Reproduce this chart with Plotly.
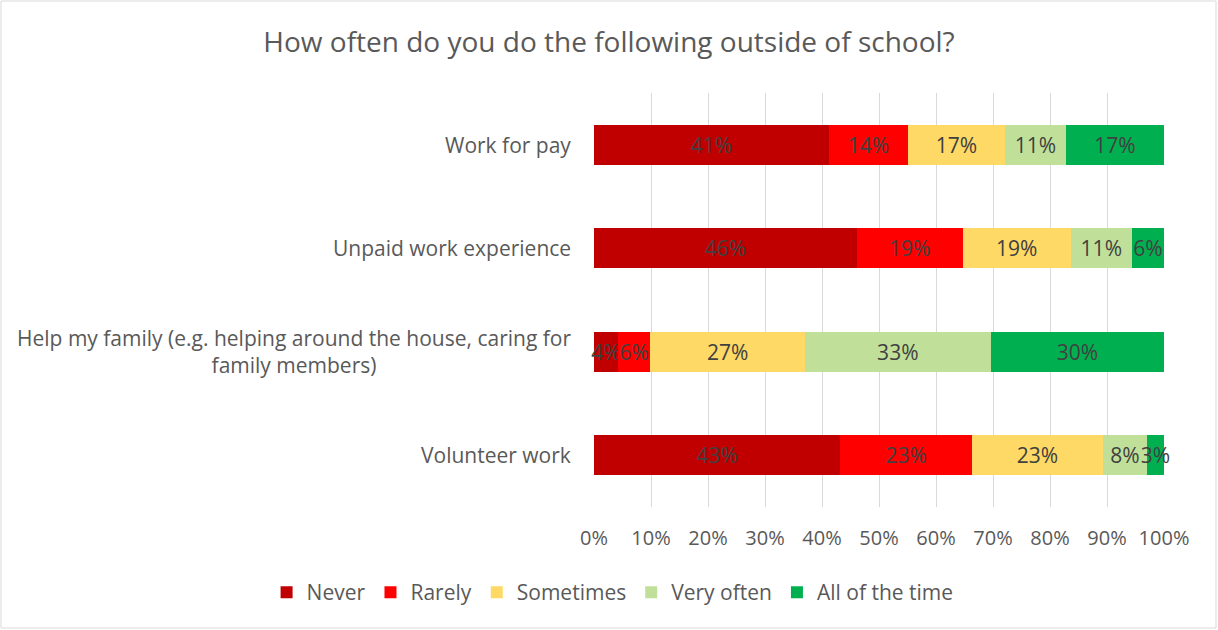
import plotly.graph_objects as go

# Survey items (top to bottom) and response shares in percent
categories = [
    "Work for pay",
    "Unpaid work experience",
    "Help my family (e.g. helping around the house, caring for<br>family members)",
    "Volunteer work",
]
never = [41.2, 46.1, 4.2, 43.2]
rarely = [13.9, 18.6, 5.7, 23.1]
sometimes = [17.0, 18.9, 27.1, 23.0]
very_often = [10.7, 10.8, 32.6, 7.7]
all_of_the_time = [17.2, 5.6, 30.4, 3.0]

series_names = ["Never", "Rarely", "Sometimes", "Very often", "All of the time"]
series_values = [never, rarely, sometimes, very_often, all_of_the_time]
series_colors = ["#C00000", "#FF0000", "#FFD966", "#C0E09A", "#00B050"]

x_ticks = [0, 10, 20, 30, 40, 50, 60, 70, 80, 90, 100]

FONT = "Open Sans"
GREY = "#595959"

W, H = 1218, 630
ML, MR, MT, MB = 10, 10, 93, 123          # outer margins
PW = W - ML - MR                           # paper width in px
PH = H - MT - MB                           # plot height in px
PLOT_X0, PLOT_X1 = 594, 1164               # plot area in px


def px_to_paper(px):
    return (px - ML) / PW


fig = go.Figure()
for name, vals, color in zip(series_names, series_values, series_colors):
    fig.add_trace(go.Bar(
        name=name,
        y=categories,
        x=[v / 100 for v in vals],
        orientation="h",
        marker=dict(color=color, line=dict(width=0)),
        texttemplate="%{x:.0%}",
        textposition="inside",
        insidetextanchor="middle",
        textangle=0,
        textfont=dict(family=FONT, size=21, color="#404040"),
        constraintext="none",
        cliponaxis=False,
    ))

# Category labels to the left of the plot area, each line centred
for cat in categories:
    fig.add_annotation(
        x=px_to_paper(573), xref="paper", y=cat, yref="y",
        text=cat, showarrow=False, xanchor="right", yanchor="middle",
        align="center", font=dict(family=FONT, size=21, color=GREY),
    )

fig.update_layout(
    barmode="stack",
    bargap=0.615,
    width=W, height=H,
    margin=dict(l=ML, r=MR, t=MT, b=MB, autoexpand=False),
    paper_bgcolor="white",
    plot_bgcolor="white",
    title=dict(
        text="How often do you do the following outside of school?",
        x=0.5, xanchor="center", y=0.933, yanchor="middle",
        font=dict(family=FONT, size=28, color=GREY),
    ),
    xaxis=dict(
        domain=[px_to_paper(PLOT_X0), px_to_paper(PLOT_X1)],
        range=[0, 1],
        tickvals=[t / 100 for t in x_ticks],
        ticktext=[f"{t}%" for t in x_ticks],
        showgrid=True, gridcolor="#D9D9D9", gridwidth=1,
        zeroline=False, showline=False,
        ticks="", ticklabelstandoff=17,
        tickfont=dict(family=FONT, size=20, color=GREY),
        automargin=False,
    ),
    yaxis=dict(
        autorange="reversed",
        showticklabels=False,
        showgrid=False, zeroline=False, showline=False, ticks="",
        automargin=False,
    ),
    legend=dict(
        orientation="h", x=0.503, xanchor="center",
        y=-(572 - (H - MB)) / PH, yanchor="top",
        font=dict(family=FONT, size=21, color=GREY),
        traceorder="normal",
    ),
)

# Light chart-area border
fig.add_shape(type="rect", xref="paper", yref="paper",
              x0=px_to_paper(1), x1=px_to_paper(W - 2),
              y0=-(MB - 2) / PH, y1=1 + (MT - 1) / PH,
              line=dict(color="#D9D9D9", width=1), fillcolor="rgba(0,0,0,0)",
              layer="below")

fig.write_html("out.html")
